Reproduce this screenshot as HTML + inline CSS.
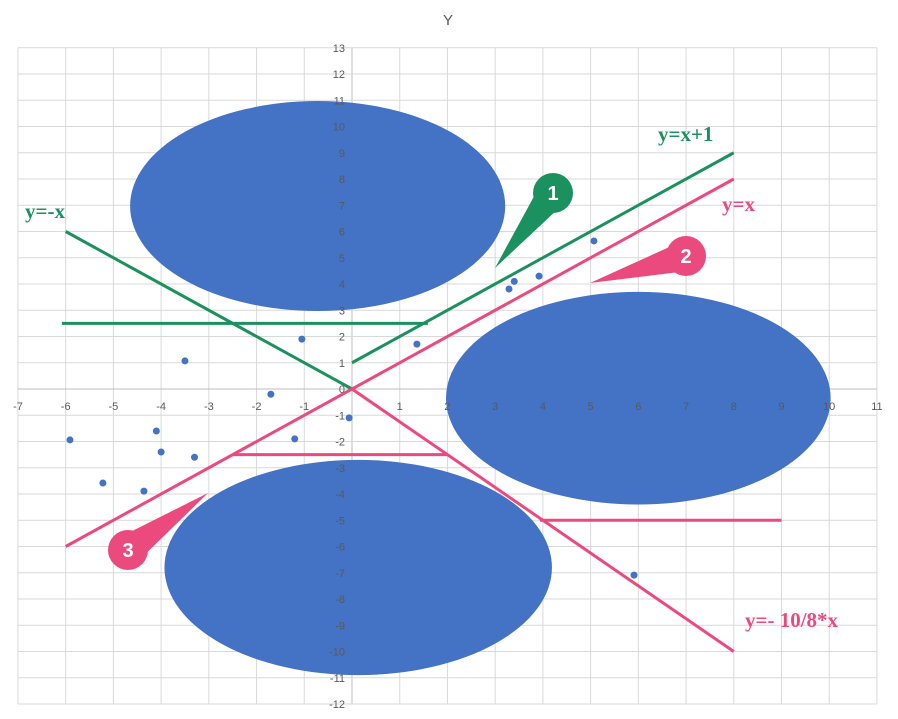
<!DOCTYPE html>
<html><head><meta charset="utf-8"><style>
body{margin:0;background:#fff;font-family:"Liberation Sans",sans-serif}
svg{display:block}
</style></head><body>
<svg id="c" width="898" height="719" xmlns="http://www.w3.org/2000/svg">
<text x="448" y="25" font-size="15" fill="#595959" text-anchor="middle">Y</text>
</svg>
<script>
const xTicks=[-7,-6,-5,-4,-3,-2,-1,0,1,2,3,4,5,6,7,8,9,10,11];
const yTicks=[-12,-11,-10,-9,-8,-7,-6,-5,-4,-3,-2,-1,0,1,2,3,4,5,6,7,8,9,10,11,12,13];
// clusters: [centerX, centerY, radiusX, radiusY]
const clusterCX=[-0.72,6.0,0.13];
const clusterCY=[6.97,-0.35,-6.8];
const clusterRX=[3.93,4.03,4.06];
const clusterRY=[4.0,4.05,4.1];
const outX=[-3.5,-1.05,-1.7,-0.06,-1.2,-3.3,-4.1,-4.0,-4.36,-5.22,-5.91,1.36,3.4,3.29,3.92,5.07,5.91];
const outY=[1.07,1.9,-0.2,-1.1,-1.9,-2.6,-1.6,-2.4,-3.89,-3.58,-1.94,1.71,4.1,3.81,4.3,5.64,-7.09];
const lineX1=[-6,-6.08,0,-6,0,-2.5,3.94];
const lineY1=[6,2.5,1,-6,0,-2.5,-5];
const lineX2=[0,1.59,8,8,8,2.0,9.0];
const lineY2=[0,2.5,9,8,-10,-2.5,-5];
const lineColor=['#1b9160','#1b9160','#1b9160','#ea4a7e','#ea4a7e','#ea4a7e','#ea4a7e'];
const lineNames=['line-y-neg-x','line-green-h','line-y-x-plus-1','line-y-x','line-y-neg-10-8x','line-pink-h1','line-pink-h2'];
const X=v=>352+(v)*47.72, Y=v=>389-v*26.25;
const s=document.getElementById('c'),NS='http://www.w3.org/2000/svg';
function mk(t,a,p){const e=document.createElementNS(NS,t);for(const k in a)e.setAttribute(k,a[k]);(p||s).appendChild(e);return e;}
const g=mk('g',{});


xTicks.forEach(v=>{const l=mk('line',{x1:X(v),x2:X(v),y1:Y(13),y2:Y(-12),stroke:v===0?'#bfbfbf':'#d9d9d9'},g);
});
yTicks.forEach(v=>{const l=mk('line',{x1:X(-7),x2:X(11),y1:Y(v),y2:Y(v),stroke:v===0?'#bfbfbf':'#d9d9d9'},g);
});
clusterCX.forEach((cx,i)=>{const e=mk('ellipse',{cx:X(cx),cy:Y(clusterCY[i]),rx:clusterRX[i]*47.72,ry:clusterRY[i]*26.25,fill:'#4472c4'});

});
xTicks.forEach(v=>{if(v!==0){const t=mk('text',{x:X(v),y:Y(0)+21,'font-size':11,fill:'#595959','text-anchor':'middle'});t.textContent=v;

}});
yTicks.forEach(v=>{const t=mk('text',{x:X(0)-7,y:Y(v)+4,'font-size':11,fill:'#595959','text-anchor':'end'});t.textContent=v;

});
outX.forEach((x,i)=>{const c=mk('circle',{cx:X(x),cy:Y(outY[i]),r:3.5,fill:'#4472c4'});

});
lineX1.forEach((x,i)=>{const l=mk('line',{x1:X(x),y1:Y(lineY1[i]),x2:X(lineX2[i]),y2:Y(lineY2[i]),stroke:lineColor[i],'stroke-width':3});

});
function callout(cx,cy,r,tx,ty,col,label,name){
 const a=Math.atan2(ty-cy,tx-cx),b=Math.PI/2-0.5;
 const p1=[cx+r*0.8*Math.cos(a+b),cy+r*0.8*Math.sin(a+b)],p2=[cx+r*0.8*Math.cos(a-b),cy+r*0.8*Math.sin(a-b)];
 const grp=mk('g',{});
 
 
 mk('polygon',{points:`${p1} ${tx},${ty} ${p2}`,fill:col},grp);
 mk('circle',{cx:cx,cy:cy,r:r,fill:col},grp);
 const t=mk('text',{x:cx,y:cy+7,'font-size':20,'font-weight':'bold',fill:'#fff','text-anchor':'middle'},grp);t.textContent=label;}
callout(553,193,20,495,268,'#1b9160','1','callout-1');
callout(686,256,20,590,283,'#ea4a7e','2','callout-2');
callout(128,550,20,208,493,'#ea4a7e','3','callout-3');
function lab(x,y,txt,col,name){const t=mk('text',{x:x,y:y,'font-size':21,'font-weight':'bold','font-family':'"Liberation Serif",serif',fill:col});t.textContent=txt;

}
lab(25,218,'y=-x','#1b9160','label-y-neg-x');
lab(658,141,'y=x+1','#1b9160','label-y-x-plus-1');
lab(722,211,'y=x','#ea4a7e','label-y-x');
lab(745,627,'y=- 10/8*x','#ea4a7e','label-y-neg-10-8x');
</script>
</body></html>
